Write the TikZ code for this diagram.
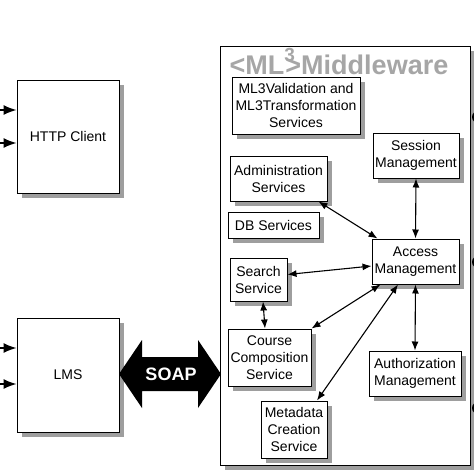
\documentclass[tikz,border=0pt]{standalone}
\usepackage{fontspec}
\setmainfont{Liberation Sans}
\usetikzlibrary{arrows.meta,shadows}
\tikzset{>={Latex[length=9pt,width=7pt]}}
\tikzset{
  box/.style={draw,line width=1pt,fill=white,align=center,inner sep=1pt,
    drop shadow={shadow xshift=5pt,shadow yshift=-5pt,fill=black!38,opacity=1},
    font=\fontsize{14}{17}\selectfont},
  link/.style={<->,line width=1.1pt},
  inarrow/.style={-{Latex[length=13pt,width=10pt]},line width=1.4pt}
}

\begin{document}
\begin{tikzpicture}[x=1pt,y=-1pt]
  \useasboundingbox (0,0) rectangle (474,474);
  % middleware frame
  \node[box,minimum width=250,minimum height=419] (mw) at (345,255.5) {};
  \node[text=black!35,font=\fontsize{27}{27}\bfseries,inner sep=0pt] (title) at (339,61.5)
    {<ML\rlap{\raisebox{0.5em}{\fontsize{19}{19}\selectfont 3}}\kern1pt>Middleware};
  % clients
  \node[box,minimum width=102,minimum height=113] (http) at (68,136.5) {HTTP Client};
  \node[box,minimum width=102,minimum height=114] (lms) at (68,375) {LMS};
  \coordinate (h1) at (0,110);
  \coordinate (h2) at (0,143);
  \coordinate (l1) at (0,348);
  \coordinate (l2) at (0,384);
  \draw[inarrow] (h1) -- (h1 -| http.west);
  \draw[inarrow] (h2) -- (h2 -| http.west);
  \draw[inarrow] (l1) -- (l1 -| lms.west);
  \draw[inarrow] (l2) -- (l2 -| lms.west);
  % SOAP
  \fill (119,374) -- (142,340) -- (142,357) -- (198,357) -- (198,340) -- (221,374)
    -- (198,408) -- (198,391) -- (142,391) -- (142,408) -- cycle;
  \node[text=white,font=\fontsize{18}{18}\bfseries] (soap) at (171,374) {SOAP};
  % services
  \node[box,minimum width=128,minimum height=57] (valid) at (296,105.5)
    {ML3Validation and\\ML3Transformation\\Services};
  \node[box,minimum width=86,minimum height=45] (session) at (416,155.5) {Session\\Management};
  \node[box,minimum width=97,minimum height=45] (admin) at (278.5,178.5) {Administration\\Services};
  \node[box,minimum width=91,minimum height=26] (db) at (273.5,225) {DB Services};
  \node[box,minimum width=87,minimum height=45] (access) at (415.5,261.5) {Access\\Management};
  \node[box,minimum width=57,minimum height=43] (search) at (258.5,279.5) {Search\\Service};
  \node[box,minimum width=83,minimum height=57] (course) at (269.5,357.5) {Course\\Composition\\Service};
  \node[box,minimum width=92,minimum height=45] (auth) at (415,373.5) {Authorization\\Management};
  \node[box,minimum width=66,minimum height=57] (meta) at (294,429.5) {Metadata\\Creation\\Service};
  % links
  \draw[link] (session.south) -- (access.north);
  \draw[link] (access.south) -- (auth.north);
  \draw[link] ([xshift=-9pt]admin.south east) -- ([xshift=6pt]access.north west);
  \draw[link] ([yshift=5pt]search.east) -- ([yshift=-4.5pt]access.west);
  \draw[link] ([xshift=4.5pt]search.south) -- ([xshift=-4.5pt]course.north);
  \draw[link] (course.north east) -- ([xshift=9pt]access.south west);
  \draw[link] ([xshift=23pt]meta.north) -- ([xshift=-17.5pt]access.south);
  % cut-off heads at the right border
  \foreach \y in {117,262,408}
    \fill (478,\y) circle (6);
\end{tikzpicture}
\end{document}
